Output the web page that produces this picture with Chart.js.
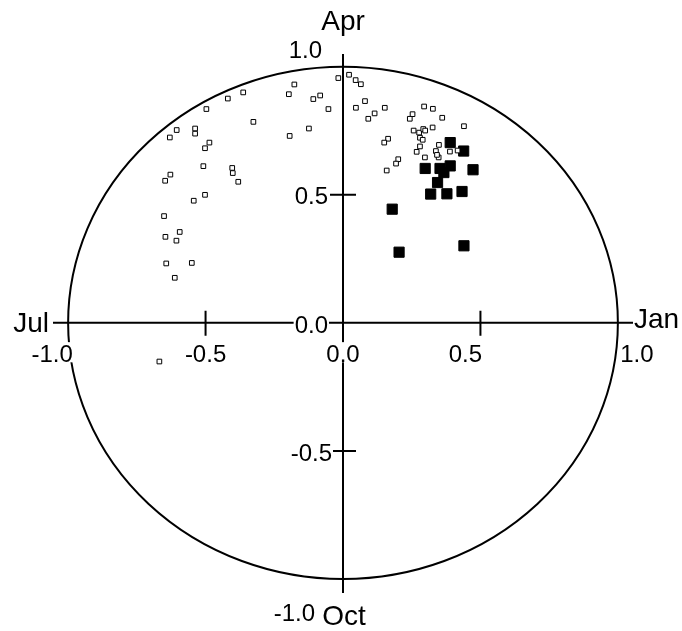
<!DOCTYPE html>
<html>
<head>
<meta charset="utf-8">
<title>Seasonality circle</title>
<script src="https://cdn.jsdelivr.net/npm/chart.js@4.4.1/dist/chart.umd.min.js"></script>
<style>
    body { margin: 0; background: #fff; }
    canvas { display: block; }
</style>
</head>
<body>
<canvas id="circleChart" width="682" height="631"></canvas>
<script>
// Open squares (x = cos, y = sin of mean date)
const openX = [-0.017, 0.022, -0.177, -0.197, -0.363, -0.419, -0.083, -0.108, -0.053, -0.497,
    -0.326, -0.605, -0.630, -0.538, -0.538, -0.124, -0.194, -0.486, -0.502, -0.508,
    -0.403, -0.401, -0.381, -0.628, -0.647, -0.502, -0.543, -0.651, -0.594, -0.646,
    -0.606, -0.643, -0.550, -0.612, -0.668,
    0.046, 0.065, 0.080, 0.047, 0.115, 0.092, 0.152, 0.295, 0.327, 0.253,
    0.243, 0.361, 0.440, 0.326, 0.257, 0.277, 0.292, 0.299, 0.280, 0.290,
    0.164, 0.150, 0.280, 0.349, 0.268, 0.338, 0.348, 0.342, 0.389, 0.417,
    0.298, 0.201, 0.193, 0.159];
const openY = [0.956, 0.969, 0.931, 0.893, 0.900, 0.876, 0.888, 0.874, 0.835, 0.835,
    0.785, 0.753, 0.724, 0.759, 0.739, 0.759, 0.730, 0.704, 0.682, 0.612,
    0.605, 0.585, 0.551, 0.579, 0.555, 0.500, 0.477, 0.417, 0.355, 0.336,
    0.321, 0.232, 0.234, 0.176, -0.151,
    0.948, 0.932, 0.866, 0.840, 0.818, 0.797, 0.840, 0.845, 0.836, 0.815,
    0.797, 0.801, 0.768, 0.763, 0.751, 0.743, 0.757, 0.751, 0.723, 0.715,
    0.719, 0.704, 0.689, 0.695, 0.668, 0.671, 0.646, 0.656, 0.669, 0.673,
    0.646, 0.639, 0.622, 0.595];

// Filled squares
const filledX = [0.390, 0.439, 0.299, 0.353, 0.390, 0.367, 0.473, 0.344, 0.319, 0.378, 0.433, 0.179, 0.204, 0.440];
const filledY = [0.704, 0.671, 0.603, 0.603, 0.613, 0.587, 0.598, 0.548, 0.503, 0.504, 0.513, 0.444, 0.276, 0.301];

// Axis ticks and labels
const xTicks = [-1.0, -0.5, 0.0, 0.5, 1.0];
const yTicks = [1.0, 0.5, 0.0, -0.5, -1.0];
const monthLabels = ['Jan', 'Apr', 'Jul', 'Oct'];

document.addEventListener('DOMContentLoaded', () => {
    const FONT = '"Liberation Sans", Arial, sans-serif';

    // draws text on a white box so it cuts through the lines below
    function label(c, text, x, y, align, baseline, size) {
        c.font = size + 'px ' + FONT;
        c.textAlign = align;
        c.textBaseline = baseline;
        const w = c.measureText(text).width;
        let left = x;
        if (align === 'center') left = x - w / 2;
        if (align === 'right') left = x - w;
        let top = y - size * 0.78;
        if (baseline === 'middle') top = y - size * 0.42;
        c.fillStyle = '#fff';
        c.fillRect(left - 1, top - 1, w + 2, size * 0.84);
        c.fillStyle = '#000';
        c.fillText(text, x, y);
    }

    const circlePlugin = {
        id: 'circleAxes',
        beforeDatasetsDraw(chart) {
            const c = chart.ctx;
            const xs = chart.scales.x;
            const ys = chart.scales.y;
            const cx = xs.getPixelForValue(0);
            const cy = ys.getPixelForValue(0);
            const rx = xs.getPixelForValue(1) - cx;
            const ry = cy - ys.getPixelForValue(1);

            c.save();
            c.strokeStyle = '#000';
            c.lineWidth = 2;

            // unit circle
            c.beginPath();
            c.ellipse(cx, cy, rx, ry, 0, 0, Math.PI * 2);
            c.stroke();

            // axes through the centre
            c.beginPath();
            c.moveTo(xs.left, cy);
            c.lineTo(xs.right, cy);
            c.moveTo(cx, ys.top);
            c.lineTo(cx, ys.bottom);

            // cross ticks at +-0.5
            [-0.5, 0.5].forEach(v => {
                const px = xs.getPixelForValue(v);
                c.moveTo(px, cy - 12);
                c.lineTo(px, cy + 13);
                const py = ys.getPixelForValue(v);
                c.moveTo(cx - 13, py);
                c.lineTo(cx + 13, py);
            });
            c.stroke();

            // x tick labels (the outer ones are nudged off the circle)
            const xNudge = { '-1': -16, '0.5': -15, '1': 19 };
            xTicks.forEach(v => {
                const px = xs.getPixelForValue(v) + (xNudge[String(v)] || 0);
                label(c, v.toFixed(1), px, cy + 39, 'center', 'alphabetic', 24);
            });

            // y tick labels
            const yShift = { '1': -9, '0.5': 9, '0': 10, '-0.5': 10, '-1': 42 };
            const yRight = { '1': -21, '0.5': -15, '0': -15, '-0.5': -11, '-1': -28 };
            yTicks.forEach(v => {
                const py = ys.getPixelForValue(v) + yShift[String(v)];
                label(c, v.toFixed(1), cx + yRight[String(v)], py, 'right', 'alphabetic', 24);
            });

            // month names at the ends of the axes
            label(c, monthLabels[0], xs.right + 1, cy - 3, 'left', 'middle', 28);
            label(c, monthLabels[1], cx, 30, 'center', 'alphabetic', 28);
            label(c, monthLabels[2], xs.left - 4, cy + 1, 'right', 'middle', 28);
            label(c, monthLabels[3], cx + 1, 625, 'center', 'alphabetic', 28);
            c.restore();
        }
    };

    const ctx = document.getElementById('circleChart').getContext('2d');
    new Chart(ctx, {
        type: 'scatter',
        data: {
            datasets: [{
                label: 'open',
                data: openX.map((x, i) => ({ x: x, y: openY[i] })),
                pointStyle: 'rect',
                pointRadius: 3.3,
                backgroundColor: '#fff',
                borderColor: '#000',
                borderWidth: 1
            }, {
                label: 'filled',
                data: filledX.map((x, i) => ({ x: x, y: filledY[i] })),
                pointStyle: 'rect',
                pointRadius: 7.2,
                backgroundColor: '#000',
                borderColor: '#000',
                borderWidth: 1
            }]
        },
        options: {
            responsive: false,
            animation: false,
            layout: { padding: { left: 53, right: 49, top: 54, bottom: 38 } },
            plugins: { legend: { display: false }, tooltip: { enabled: false } },
            scales: {
                x: { type: 'linear', min: -1.055, max: 1.055, display: false },
                y: { type: 'linear', min: -1.055, max: 1.05, display: false }
            }
        },
        plugins: [circlePlugin]
    });
});
</script>
</body>
</html>
